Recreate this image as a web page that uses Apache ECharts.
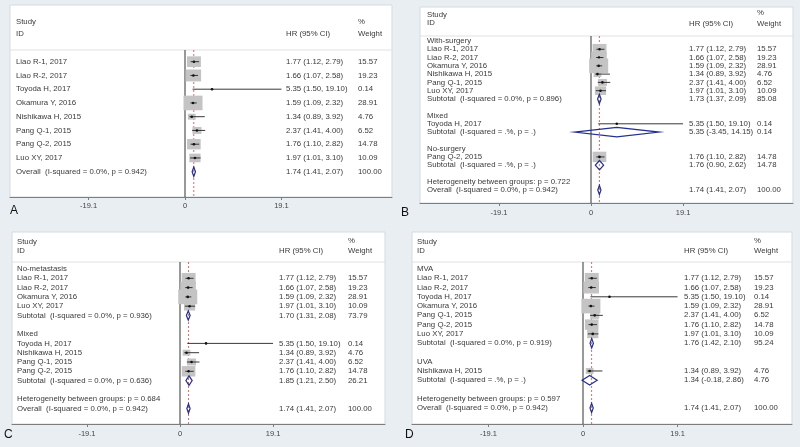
<!DOCTYPE html>
<html>
<head>
<meta charset="utf-8">
<title>Forest plots</title>
<script src="https://cdn.jsdelivr.net/npm/echarts@6.0.0/dist/echarts.min.js"></script>
<style>
  html, body { margin: 0; padding: 0; background: #e9eef3; }
  #chart { width: 800px; height: 447px; }
</style>
</head>
<body>
<div id="chart"></div>
<script>
// the 8 studies, same in every panel
const studyNames = ['Liao R-1, 2017', 'Liao R-2, 2017', 'Toyoda H, 2017', 'Okamura Y, 2016',
  'Nishikawa H, 2015', 'Pang Q-1, 2015', 'Pang Q-2, 2015', 'Luo XY, 2017'];
const hrValues = [1.77, 1.66, 5.35, 1.59, 1.34, 2.37, 1.76, 1.97];
const ciLow = [1.12, 1.07, 1.50, 1.09, 0.89, 1.41, 1.10, 1.01];
const ciHigh = [2.79, 2.58, 19.10, 2.32, 3.92, 4.00, 2.82, 3.10];
const weights = [15.57, 19.23, 0.14, 28.91, 4.76, 6.52, 14.78, 10.09];
const overallHR = [1.74, 1.41, 2.07];
const overallLabel = 'Overall  (I-squared = 0.0%, p = 0.942)';
const tickValues = [-19.1, 0, 19.1];

// B: surgery subgroups
const groupsB = ['With-surgery', 'Mixed', 'No-surgery'];
const membersB = [[0, 1, 3, 4, 5, 7], [2], [6]];
const subtotalB = [[1.73, 1.37, 2.09], [5.35, -3.45, 14.15], [1.76, 0.90, 2.62]];
const subWeightB = [85.08, 0.14, 14.78];
const subLabelB = ['Subtotal  (I-squared = 0.0%, p = 0.896)', 'Subtotal  (I-squared = .%, p = .)', 'Subtotal  (I-squared = .%, p = .)'];
const hetB = 'Heterogeneity between groups: p = 0.722';

// C: metastasis subgroups
const groupsC = ['No-metastasis', 'Mixed'];
const membersC = [[0, 1, 3, 7], [2, 4, 5, 6]];
const subtotalC = [[1.70, 1.31, 2.08], [1.85, 1.21, 2.50]];
const subWeightC = [73.79, 26.21];
const subLabelC = ['Subtotal  (I-squared = 0.0%, p = 0.936)', 'Subtotal  (I-squared = 0.0%, p = 0.636)'];
const hetC = 'Heterogeneity between groups: p = 0.684';

// D: analysis type subgroups
const groupsD = ['MVA', 'UVA'];
const membersD = [[0, 1, 2, 3, 5, 6, 7], [4]];
const subtotalD = [[1.76, 1.42, 2.10], [1.34, -0.18, 2.86]];
const subWeightD = [95.24, 4.76];
const subLabelD = ['Subtotal  (I-squared = 0.0%, p = 0.919)', 'Subtotal  (I-squared = .%, p = .)'];
const hetD = 'Heterogeneity between groups: p = 0.597';

function studyRow(i) {
  return { label: studyNames[i], kind: 1, v: [hrValues[i], ciLow[i], ciHigh[i]], w: weights[i] };
}

function buildRows(groups, members, subs, subW, subLabels, het) {
  const rows = [];
  if (!groups) {
    studyNames.forEach((n, i) => rows.push(studyRow(i)));
  } else {
    groups.forEach((g, gi) => {
      if (gi > 0) rows.push(null);
      rows.push({ label: g, kind: 0 });
      members[gi].forEach(i => rows.push(studyRow(i)));
      rows.push({ label: subLabels[gi], kind: 2, v: subs[gi], w: subW[gi] });
    });
    rows.push(null);
    rows.push({ label: het, kind: 3 });
  }
  rows.push({ label: overallLabel, kind: 4, v: overallHR, w: 100 });
  // drop blank rows but keep their index
  const items = [];
  rows.forEach((r, i) => { if (r) items.push(Object.assign({ row: i }, r)); });
  return items;
}

const panels = [
  { letter: 'A', items: buildRows(), left: 10, right: 392, top: 5, bottom: 197,
    x0: 185, unit: 5.05, y0: 61.7, dy: 13.75, headY: 50,
    textX: 16, hrX: 286, wX: 358, studyY: 22, idY: 34, pctY: 22, wtY: 34,
    letterX: 10, letterY: 211, margin: 5 },
  { letter: 'B', items: buildRows(groupsB, membersB, subtotalB, subWeightB, subLabelB, hetB),
    left: 420, right: 793, top: 7, bottom: 203,
    x0: 591, unit: 4.82, y0: 41, dy: 8.28, headY: 36,
    textX: 427, hrX: 689, wX: 757, studyY: 15, idY: 23, pctY: 13, wtY: 24,
    letterX: 401, letterY: 213, margin: 6 },
  { letter: 'C', items: buildRows(groupsC, membersC, subtotalC, subWeightC, subLabelC, hetC),
    left: 12, right: 385, top: 232, bottom: 424,
    x0: 180, unit: 4.87, y0: 269, dy: 9.3, headY: 262,
    textX: 17, hrX: 279, wX: 348, studyY: 242, idY: 251, pctY: 241, wtY: 251,
    letterX: 4, letterY: 435, margin: 6 },
  { letter: 'D', items: buildRows(groupsD, membersD, subtotalD, subWeightD, subLabelD, hetD),
    left: 412, right: 792, top: 232, bottom: 424,
    x0: 583, unit: 4.95, y0: 269, dy: 9.27, headY: 262,
    textX: 417, hrX: 684, wX: 754, studyY: 242, idY: 251, pctY: 241, wtY: 251,
    letterX: 405, letterY: 435, margin: 6 }
];

const FONT = '7.8px "Liberation Sans", Arial, sans-serif';
const TXT = '#3a3a3a';

function txt(s, x, y) {
  return { type: 'text', x: x, y: y, style: { text: s, font: FONT, fill: TXT, verticalAlign: 'middle', align: 'left' } };
}

const series = [];
const graphic = [];

panels.forEach((p, pi) => {
  // reference lines: null line at 0 and overall estimate
  series.push({
    type: 'custom', xAxisIndex: pi, yAxisIndex: pi, silent: true,
    data: [[0, 0], [overallHR[0], 0]],
    encode: { x: 0, y: 1 },
    renderItem: function (params, api) {
      const cs = params.coordSys;
      const x = api.coord([api.value(0), 0])[0];
      const children = [];
      if (params.dataIndex === 0) {
        children.push({ type: 'line', shape: { x1: cs.x, y1: p.headY, x2: cs.x + cs.width, y2: p.headY },
          style: { stroke: '#dde2e6', lineWidth: 1 } });
        children.push({ type: 'line', shape: { x1: x, y1: p.headY, x2: x, y2: cs.y + cs.height },
          style: { stroke: '#333', lineWidth: 1 } });
      } else {
        children.push({ type: 'line', shape: { x1: x, y1: p.headY, x2: x, y2: cs.y + cs.height },
          style: { stroke: '#e06a6a', lineWidth: 1, lineDash: [2, 2] } });
      }
      return { type: 'group', children: children };
    }
  });

  // study rows, subtotals, overall
  series.push({
    type: 'custom', xAxisIndex: pi, yAxisIndex: pi, silent: true,
    data: p.items.map(r => [r.row, r.v ? r.v[0] : 0, r.v ? r.v[1] : 0, r.v ? r.v[2] : 0, r.w || 0, r.kind]),
    encode: { x: 1, y: 0 },
    renderItem: function (params, api) {
      const it = p.items[params.dataIndex];
      const row = api.value(0), kind = api.value(5);
      const y = api.coord([0, row])[1];
      const children = [txt(it.label, p.textX, y)];
      if (kind === 1 || kind === 2 || kind === 4) {
        const hr = api.value(1), lo = api.value(2), hi = api.value(3), w = api.value(4);
        const cx = api.coord([hr, row])[0];
        const xl = api.coord([lo, row])[0];
        const xh = api.coord([hi, row])[0];
        if (kind === 1) {
          const hw = 1.77 * Math.sqrt(w), hh = 1.36 * Math.sqrt(w);
          children.push({ type: 'rect', shape: { x: cx - hw, y: y - hh, width: hw * 2, height: hh * 2 },
            style: { fill: '#c4c4c4' } });
          children.push({ type: 'line', shape: { x1: xl, y1: y, x2: xh, y2: y },
            style: { stroke: '#222', lineWidth: 0.9 } });
          children.push({ type: 'circle', shape: { cx: cx, cy: y, r: 1.3 }, style: { fill: '#111' } });
        } else {
          const h = 4.7;
          children.push({ type: 'polygon', shape: { points: [[xl, y], [cx, y - h], [xh, y], [cx, y + h]] },
            style: { fill: 'rgba(255,255,255,0)', stroke: '#23308f', lineWidth: 1.2 } });
        }
        const hrText = hr.toFixed(2) + ' (' + lo.toFixed(2) + ', ' + hi.toFixed(2) + ')';
        children.push(txt(hrText, p.hrX, y));
        children.push(txt(w.toFixed(2), p.wX, y));
      }
      return { type: 'group', children: children };
    }
  });

  // column headers and panel letter
  graphic.push(txt('Study', p.textX, p.studyY));
  graphic.push(txt('ID', p.textX, p.idY));
  graphic.push(txt('HR (95% CI)', p.hrX, p.wtY));
  graphic.push(txt('%', p.wX, p.pctY));
  graphic.push(txt('Weight', p.wX, p.wtY));
  graphic.push({ type: 'text', x: p.letterX, y: p.letterY,
    style: { text: p.letter, font: '12px "Liberation Sans", Arial, sans-serif', fill: '#111', verticalAlign: 'middle' } });
});

const chart = echarts.init(document.getElementById('chart'));
chart.setOption({
  backgroundColor: '#e9eef3',
  animation: false,
  grid: panels.map(p => ({
    left: p.left, top: p.top, width: p.right - p.left, height: p.bottom - p.top,
    show: true, backgroundColor: '#fff', borderColor: '#d5dbe1', borderWidth: 1
  })),
  xAxis: panels.map((p, i) => ({
    type: 'value', gridIndex: i,
    min: (p.left - p.x0) / p.unit, max: (p.right - p.x0) / p.unit,
    axisLine: { show: true, onZero: false, lineStyle: { color: '#7d7d7d', width: 1 } },
    axisTick: { show: true, customValues: tickValues, length: 3, lineStyle: { color: '#7d7d7d' } },
    axisLabel: { customValues: tickValues, fontSize: 7.5, color: '#444', margin: p.margin,
      fontFamily: '"Liberation Sans", Arial, sans-serif', formatter: v => String(v) },
    splitLine: { show: false }
  })),
  yAxis: panels.map((p, i) => ({
    type: 'value', gridIndex: i, inverse: true, show: false,
    min: (p.top - p.y0) / p.dy, max: (p.bottom - p.y0) / p.dy
  })),
  graphic: graphic,
  series: series
});
</script>
</body>
</html>
